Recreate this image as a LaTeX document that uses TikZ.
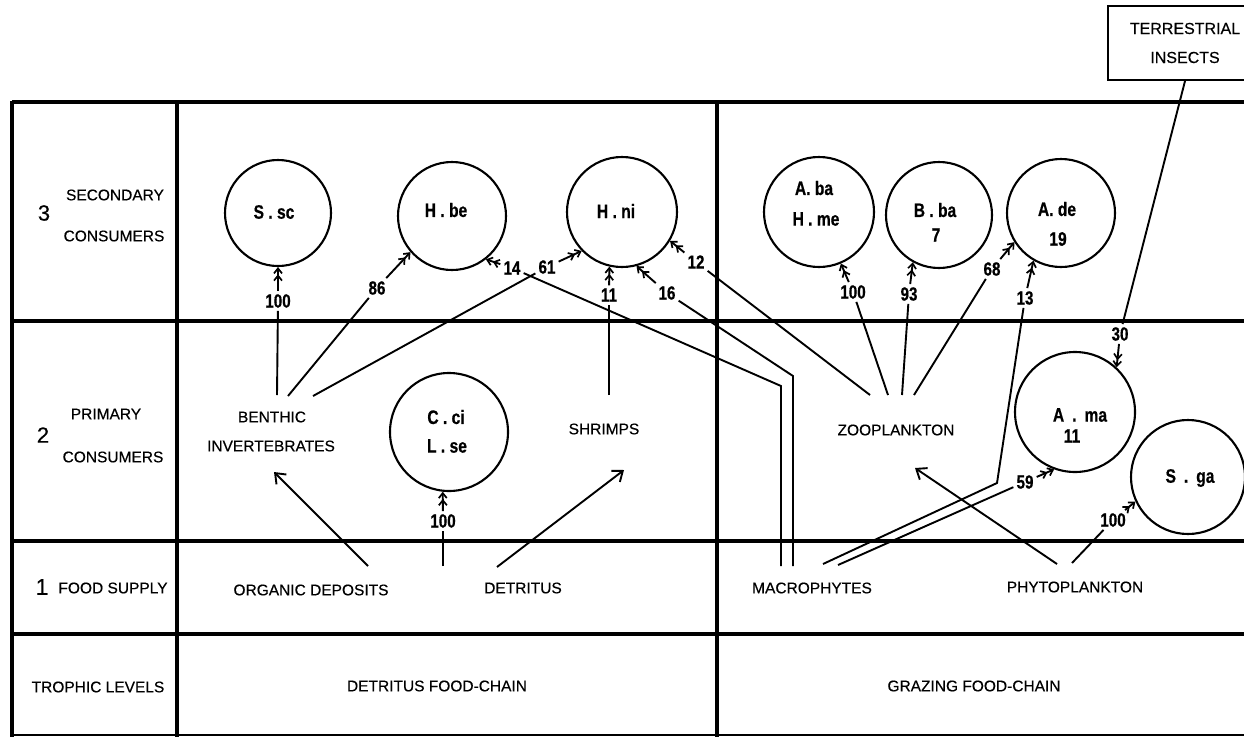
\documentclass[tikz,border=0pt]{standalone}
\usepackage{fontspec}
\setmainfont[FakeBold=0.4]{Liberation Sans}
\newfontfamily\tagfont[FakeStretch=0.8,FakeBold=0.6]{Liberation Sans}
\usetikzlibrary{arrows.meta}

\begin{document}
\begin{tikzpicture}[x=1pt,y=-1pt,
  grid/.style={line width=3.2pt},
  link/.style={line width=1.9pt},
  txt/.style={inner sep=0pt, font=\fontsize{15.5}{18}\selectfont},
  big/.style={inner sep=0pt, font=\fontsize{22}{24}\selectfont},
  num/.style={inner sep=3pt, font=\tagfont\bfseries\fontsize{19}{20}\selectfont},
  tag/.style={inner sep=0pt, font=\tagfont\bfseries\fontsize{19.5}{20}\selectfont},
  ring/.style={circle, draw, line width=2.1pt, inner sep=0pt},
  feed/.style={link, -{Straight Barb[length=5pt,width=8pt,line width=1.7pt] Straight Barb[length=5pt,width=8pt,line width=1.7pt]}},
  flow/.style={link, -{Straight Barb[length=9pt,width=14pt,line width=1.9pt]}},
]
\useasboundingbox (0,0) rectangle (1244,736);
\clip (0,0) rectangle (1244,736);

% table frame
\draw[grid] (12,102) -- (1250,102);
\draw[grid] (12,321) -- (1250,321);
\draw[grid] (12,541) -- (1250,541);
\draw[grid] (12,634) -- (1250,634);
\draw[line width=1.8pt] (12,735) -- (1250,735);
\draw[grid] (12,101) -- (12,740);
\draw[grid] (177,101) -- (177,740);
\draw[grid] (717,101) -- (717,740);

% trophic level captions
\node[big] (lv3) at (44,213) {3};
\node[txt] (lv3a) at (115,195) {SECONDARY};
\node[txt] (lv3b) at (114,236) {CONSUMERS};
\node[big] (lv2) at (43,435) {2};
\node[txt] (lv2a) at (106,414) {PRIMARY};
\node[txt] (lv2b) at (113,457) {CONSUMERS};
\node[inner sep=0pt, font=\fontsize{23}{26}\selectfont] (lv1) at (42,587) {1};
\node[txt] (lv1a) at (113,588) {FOOD SUPPLY};
\node[txt] (lv0) at (98,687) {TROPHIC LEVELS};

% food supply and primary consumers
\node[txt] (orgdep) at (311,590) {ORGANIC DEPOSITS};
\node[txt] (detritus) at (523,588) {DETRITUS};
\node[txt] (macro) at (812,588) {MACROPHYTES};
\node[txt] (phyto) at (1075,587) {PHYTOPLANKTON};
\node[txt] (benthic1) at (272,417) {BENTHIC};
\node[txt] (benthic2) at (271,446) {INVERTEBRATES};
\node[txt] (shrimps) at (604,429) {SHRIMPS};
\node[txt] (zoo) at (896,430) {ZOOPLANKTON};
\node[txt] (detchain) at (437,686) {DETRITUS FOOD-CHAIN};
\node[txt] (grazchain) at (974,686) {GRAZING FOOD-CHAIN};

% terrestrial insects
\node[draw, line width=2.1pt, minimum width=154pt, minimum height=74pt, inner sep=0pt,
      align=center, font=\fontsize{16}{29}\selectfont] (insects) at (1185,43)
      {TERRESTRIAL\\INSECTS};

% fish species
\node[ring, minimum size=106pt] (ssc) at (278,213) {};
\node[ring, minimum size=108pt] (hbe) at (452,216) {};
\node[ring, minimum size=110pt] (hni) at (622,212) {};
\node[ring, minimum size=110pt] (aba) at (819,212) {};
\node[ring, minimum size=106pt] (bba) at (939,215) {};
\node[ring, minimum size=108pt] (ade) at (1061,213) {};
\node[ring, minimum size=118pt] (cci) at (449,432) {};
\node[ring, minimum size=120pt] (ama) at (1075,412) {};
\node[ring, minimum size=114pt] (sga) at (1188,477) {};

\node[tag] (ssct) at (274,212) {S . sc};
\node[tag] (hbet) at (446,210) {H . be};
\node[tag] (hnit) at (616,211) {H . ni};
\node[tag] (abat) at (814,188) {A. ba};
\node[tag] (hmet) at (816,219) {H . me};
\node[tag] (bbat) at (935,210) {B . ba};
\node[tag] (bban) at (936,235) {7};
\node[tag] (adet) at (1057,209) {A. de};
\node[tag] (aden) at (1058,239) {19};
\node[tag] (ccit) at (446,417) {C . ci};
\node[tag] (lset) at (447,446) {L . se};
\node[tag] (amat) at (1080,415) {A\hspace{8pt}.\hspace{8pt}ma};
\node[tag] (aman) at (1072,436) {11};
\node[tag] (sgat) at (1190,478) {S\hspace{8pt}.\hspace{8pt}ga};

% percentage labels
\node[num] (n100a) at (278,301) {100};
\node[num] (n86) at (377,288) {86};
\node[num] (n14) at (512,268) {14};
\node[num] (n61) at (547,267) {61};
\node[num] (n11) at (609,295) {11};
\node[num] (n16) at (667,293) {16};
\node[num] (n12) at (696,262) {12};
\node[num] (n100b) at (853,292) {100};
\node[num] (n93) at (909,294) {93};
\node[num] (n68) at (992,269) {68};
\node[num] (n13) at (1025,298) {13};
\node[num] (n100c) at (443,521) {100};
\node[num] (n59) at (1025,482) {59};
\node[num] (n30) at (1120,334) {30};
\node[num] (n100d) at (1113,520) {100};

% connector end points
\coordinate (b1) at (277,395);
\coordinate (b2) at (288,396);
\coordinate (b3) at (313,396);
\coordinate (bin) at (274,472);
\coordinate (s1) at (609,395);
\coordinate (sin) at (624,470);
\coordinate (z1) at (870,395);
\coordinate (z2) at (888,395);
\coordinate (z3) at (902,395);
\coordinate (z4) at (914,395);
\coordinate (zin) at (915,468);
\coordinate (o1) at (368,566);
\coordinate (d1) at (443,566);
\coordinate (d2) at (497,567);
\coordinate (m1) at (781,566);
\coordinate (mk1) at (781,386);
\coordinate (m2) at (793,566);
\coordinate (mk2) at (793,376);
\coordinate (m3) at (823,564);
\coordinate (mk3) at (997,483);
\coordinate (m4) at (838,565);
\coordinate (p1) at (1057,564);
\coordinate (p2) at (1072,563);

% food supply to primary consumers
\draw[flow] (o1) -- (bin);
\draw[flow] (d2) -- (sin);
\draw[flow] (p1) -- (zin);
\draw[link] (d1) -- (n100c);
\draw[feed] (n100c) -- (cci.-96);

% benthic invertebrates
\draw[link] (b1) -- (n100a);
\draw[feed] (n100a) -- (ssc.-90);
\draw[link] (b2) -- (n86);
\draw[feed] (n86) -- (hbe.-139);
\draw[link] (b3) -- (n61);
\draw[feed] (n61) -- (hni.-136);

% shrimps
\draw[link] (s1) -- (n11);
\draw[feed] (n11) -- (hni.-103);

% macrophytes
\draw[link] (m1) -- (mk1) -- (n14);
\draw[feed] (n14) -- (hbe.-52);
\draw[link] (m2) -- (mk2) -- (n16);
\draw[feed] (n16) -- (hni.-75);
\draw[link] (m3) -- (mk3) -- (n13);
\draw[feed] (n13) -- (ade.-120);
\draw[link] (m4) -- (n59);
\draw[feed] (n59) -- (ama.-110);

% zooplankton
\draw[link] (z1) -- (n12);
\draw[feed] (n12) -- (hni.-31);
\draw[link] (z2) -- (n100b);
\draw[feed] (n100b) -- (aba.-67);
\draw[link] (z3) -- (n93);
\draw[feed] (n93) -- (bba.-119);
\draw[link] (z4) -- (n68);
\draw[feed] (n68) -- (ade.-148);

% phytoplankton
\draw[link] (p2) -- (n100d);
\draw[feed] (n100d) -- (sga.-155);

% terrestrial insects
\draw[link] (insects.south) -- (n30);
\draw[feed] (n30) -- (ama.47);
\end{tikzpicture}
\end{document}
